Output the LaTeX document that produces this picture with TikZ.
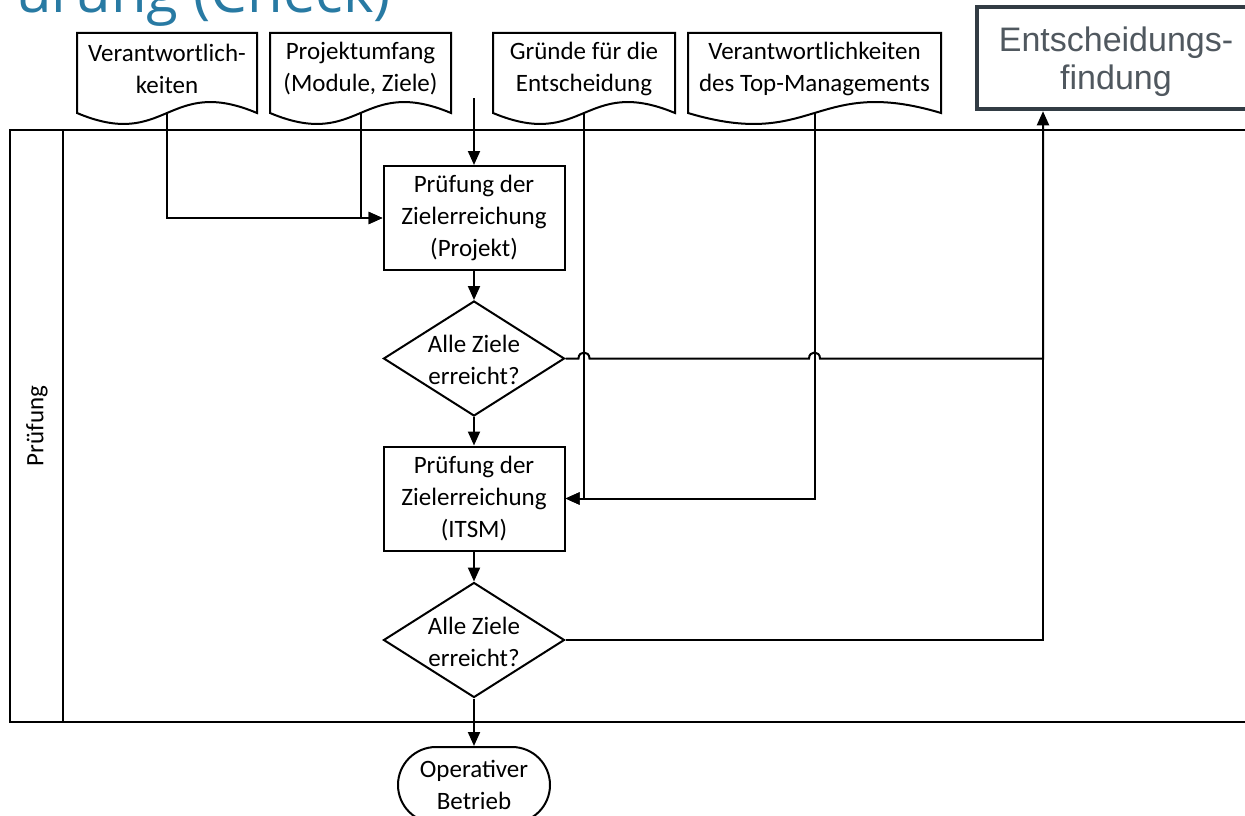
\documentclass[tikz,border=0pt]{standalone}
\usepackage{fontspec}
\setmainfont{Carlito}
\newfontfamily\titlefont{Open Sans}
\newfontfamily\arialfont{Liberation Sans}
\usetikzlibrary{shapes.geometric,arrows.meta,calc}
\definecolor{titleblue}{RGB}{40,122,163}
\definecolor{entframe}{RGB}{50,60,68}
\definecolor{enttext}{RGB}{80,88,95}
\tikzset{
  ln/.style={line width=2pt, draw=black},
  arr/.style={ln, -{Triangle[length=14pt,width=12pt]}},
  txt/.style={font=\fontsize{25}{32}\selectfont, align=center, inner sep=0pt},
  procbox/.style={ln, txt, minimum width=181pt, minimum height=104pt},
  dia/.style={ln, diamond, inner sep=0pt, minimum width=181pt, minimum height=115pt},
  termbox/.style={ln, txt, rounded corners=38pt, minimum width=152pt, minimum height=76pt},
  entbox/.style={draw=entframe, line width=4.5pt, minimum width=278pt, minimum height=102pt, inner sep=0pt},
  enttxt/.style={font=\arialfont\fontsize{34}{38}\selectfont, text=enttext, align=center, inner sep=0pt},
}
\newcommand\mydocshape[4]{%
  \draw[ln] (#2,33) -- (#2,113) .. controls ({(#2+#3)/2},151) and ({(#2+#3)/2},75) .. (#3,113) -- (#3,33) -- cycle;
  \node[txt] (#1) at ({(#2+#3)/2},69) {#4};
  \coordinate (#1-b) at ({(#2+#3)/2},113);
}
\begin{document}
\begin{tikzpicture}[x=1pt,y=-1pt]
\useasboundingbox (0,0) rectangle (1245,816);
\clip (0,0) rectangle (1245,816);
% title (cut off at the top edge, as in the reference)
\node[font=\titlefont\fontsize{58}{60}\selectfont, text=titleblue, anchor=base east, inner sep=0pt] (title) at (391,13) {urung (Check)};
% pool
\draw[ln] (10,130) rectangle (1265,722);
\draw[ln] (63,130) -- (63,722);
\node[txt, rotate=90] (lane) at (37,426) {Prüfung};
% documents
\mydocshape{v1}{77}{257}{Verantwortlich-\\keiten}
\mydocshape{v2}{270}{451}{Projektumfang\\(Module, Ziele)}
\mydocshape{v3}{493}{675}{Gründe für die\\Entscheidung}
\mydocshape{v4}{688}{941}{Verantwortlichkeiten\\des Top-Managements}
% decision box
\node[entbox] (ent) at (1116,58) {};
\node[enttxt] (entt) at (1116,62) {Entscheidungs-\\findung};
% flow
\coordinate (tin) at (474,98);
\node[procbox] (p1) at (474,218) {Prüfung der\\Zielerreichung\\(Projekt)};
\node[dia] (d1) at (474,358.5) {};
\node[txt] (d1t) at (474,360) {Alle Ziele\\erreicht?};
\node[procbox] (p2) at (474,498.5) {Prüfung der\\Zielerreichung\\(ITSM)};
\node[dia] (d2) at (474,640) {};
\node[txt] (d2t) at (474,641.5) {Alle Ziele\\erreicht?};
\node[termbox] (term) at (474,785) {Operativer\\Betrieb};
% connectors
\draw[arr] (tin) -- (p1.north);
\draw[arr] (v1-b) |- (p1.west);
\draw[arr] (v2-b) |- (p1.west);
\draw[arr] (p1.south) -- (d1.north);
\draw[arr] (d1.south) -- (p2.north);
\draw[arr] (v3-b) |- (p2.east);
\draw[arr] (v4-b) |- (p2.east);
\draw[arr] (p2.south) -- (d2.north);
\draw[arr] (d2.south) -- (term.north);
\coordinate (j1) at (d1.east -| v3-b);
\coordinate (j2) at (d1.east -| v4-b);
\coordinate (jx) at (1043,0);
\draw[arr] (d1.east) -- ($(j1)+(-5.5,0)$) .. controls ($(j1)+(-5.5,-8)$) and ($(j1)+(5.5,-8)$) .. ($(j1)+(5.5,0)$)
  -- ($(j2)+(-5.5,0)$) .. controls ($(j2)+(-5.5,-8)$) and ($(j2)+(5.5,-8)$) .. ($(j2)+(5.5,0)$)
  -- (jx |- d1.east) -- (jx |- ent.south);
\draw[ln] (d2.east) -| (jx |- d1.east);
\end{tikzpicture}
\end{document}
